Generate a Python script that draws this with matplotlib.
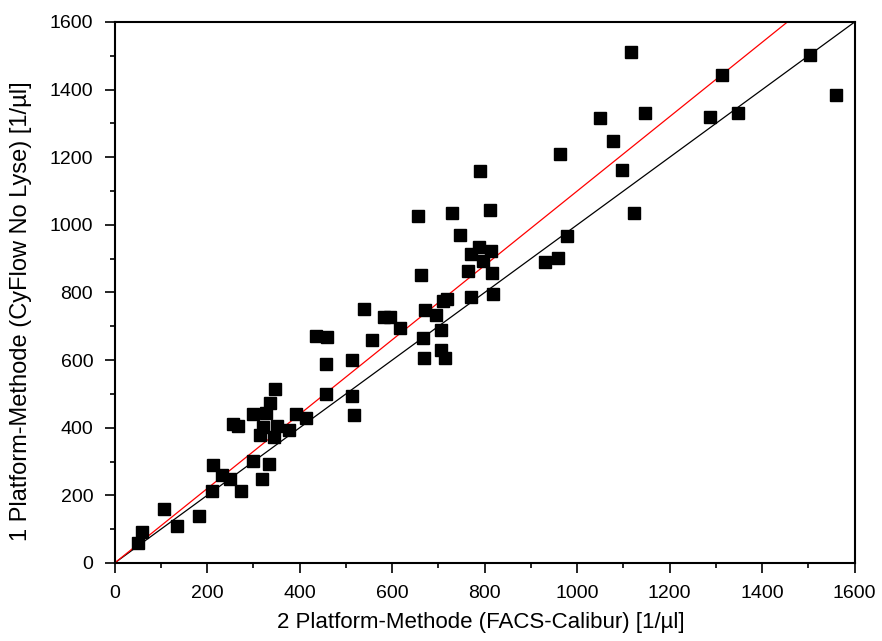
import matplotlib.pyplot as plt
import numpy
from matplotlib.ticker import MultipleLocator

plt.rcParams['font.family'] = ['Liberation Sans', 'DejaVu Sans']

chart_xlabel = '2 Platform-Methode (FACS-Calibur) [1/µl]'
chart_ylabel = '1 Platform-Methode (CyFlow No Lyse) [1/µl]'

# FACS-Calibur (x) vs CyFlow (y) counts
x_facs = [50, 60, 106, 135, 182, 210, 213, 233, 249, 274,
          256, 267, 299, 300, 319, 315, 321, 328, 335, 346,
          350, 344, 334, 377, 393, 413, 456, 456, 513, 513,
          517, 435, 459, 540, 557, 582, 595, 618, 656, 662,
          667, 668, 672, 695, 705, 706, 710, 715, 719, 729,
          746, 765, 770, 770, 788, 789, 796, 812, 814, 816,
          819, 931, 958, 962, 977, 1049, 1078, 1097, 1116, 1123,
          1147, 1287, 1314, 1347, 1503, 1559]
y_cyflow = [58, 93, 159, 110, 139, 214, 290, 260, 249, 214,
            411, 406, 440, 303, 249, 378, 403, 445, 474, 515,
            405, 372, 293, 393, 441, 428, 589, 499, 601, 495,
            438, 672, 667, 752, 659, 727, 727, 694, 1025, 851,
            665, 607, 749, 732, 630, 689, 774, 606, 780, 1034,
            971, 864, 914, 788, 936, 1160, 893, 1044, 923, 859,
            795, 890, 902, 1209, 966, 1315, 1247, 1162, 1510, 1035,
            1331, 1319, 1444, 1330, 1503, 1384]

# identity line and regression line
line_x = [0, 1600]
slope_red = 1.10

fig = plt.figure(figsize=(8.82, 6.41), dpi=100)
ax = fig.add_axes((0.130, 0.1217, 0.839, 0.844))

ax.plot(line_x, line_x, color='black', linewidth=0.9, zorder=2)
ax.plot(line_x, [v * slope_red for v in line_x], color='red', linewidth=0.9, zorder=2)
ax.plot(x_facs, y_cyflow, linestyle='none', marker='s', markersize=8,
        color='black', zorder=3)

ax.set_xlim(0, 1600)
ax.set_ylim(0, 1600)
ax.xaxis.set_major_locator(MultipleLocator(200))
ax.xaxis.set_minor_locator(MultipleLocator(100))
ax.yaxis.set_major_locator(MultipleLocator(200))
ax.yaxis.set_minor_locator(MultipleLocator(100))
ax.tick_params(which='major', direction='out', length=7.5, width=1.2, labelsize=14, pad=8)
ax.tick_params(which='minor', direction='out', length=3.5, width=1.2)
ax.tick_params(which='both', top=False, right=False)
for s in ax.spines.values():
    s.set_linewidth(1.5)

ax.set_xlabel(chart_xlabel, fontsize=16)
ax.set_ylabel(chart_ylabel, fontsize=17)
ax.xaxis.set_label_coords(0.495, -0.09)
ax.yaxis.set_label_coords(-0.112, 0.465)

plt.savefig('out.png', dpi=100)
